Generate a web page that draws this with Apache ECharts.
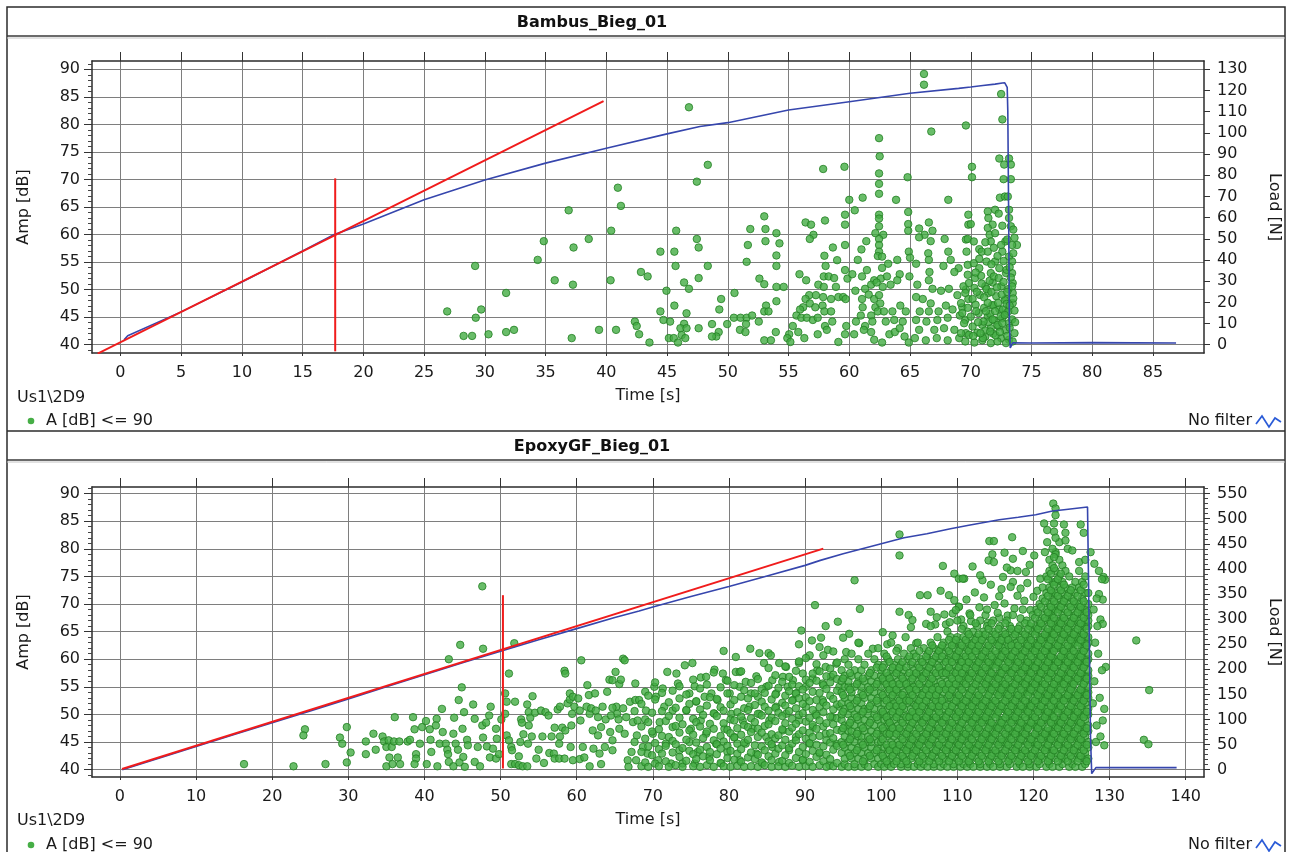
<!DOCTYPE html>
<html>
<head>
<meta charset="utf-8">
<title>Bambus_Bieg_01 / EpoxyGF_Bieg_01</title>
<script src="https://cdn.jsdelivr.net/npm/echarts@6/dist/echarts.min.js"></script>
<style>
  html, body { margin: 0; padding: 0; background: #ffffff; }
  #chart { width: 1290px; height: 852px; }
</style>
</head>
<body>
<div id="chart"></div>
<script>
// ---------- tick values ----------
const bambusTimeTicks = [0, 5, 10, 15, 20, 25, 30, 35, 40, 45, 50, 55, 60, 65, 70, 75, 80, 85];
const epoxyTimeTicks = [0, 10, 20, 30, 40, 50, 60, 70, 80, 90, 100, 110, 120, 130, 140];
const ampTicks = [40, 45, 50, 55, 60, 65, 70, 75, 80, 85, 90];
const ampMinorTicks = [39, 41, 42, 43, 44, 46, 47, 48, 49, 51, 52, 53, 54, 56, 57, 58, 59, 61, 62, 63, 64,
  66, 67, 68, 69, 71, 72, 73, 74, 76, 77, 78, 79, 81, 82, 83, 84, 86, 87, 88, 89, 91];
const bambusLoadTicks = [0, 10, 20, 30, 40, 50, 60, 70, 80, 90, 100, 110, 120, 130];
const epoxyLoadTicks = [0, 50, 100, 150, 200, 250, 300, 350, 400, 450, 500, 550];
const epoxyLoadMinor = [10, 20, 30, 40, 60, 70, 80, 90, 110, 120, 130, 140, 160, 170, 180, 190, 210, 220, 230, 240,
  260, 270, 280, 290, 310, 320, 330, 340, 360, 370, 380, 390, 410, 420, 430, 440, 460, 470, 480, 490, 510, 520, 530, 540, 560];

// ---------- Bambus_Bieg_01 ----------
// acoustic emission hits: time [s], amplitude [dB] (pairs)
const bambusHits = [
  46.8,83.1, 47.45,69.6, 40.95,68.5, 41.2,65.2, 36.9,64.4, 40.4,60.7, 45.75,60.7, 34.85,58.8, 38.55,59.2, 37.3,57.65,
  47.45,59.2, 47.6,57.65, 44.45,56.9, 45.6,56.9, 34.35,55.4, 29.2,54.3, 45.7,54.3, 42.85,53.2, 43.4,52.4, 47.6,52.1,
  35.75,51.7, 37.25,50.9, 40.35,51.7, 46.4,51.3, 46.8,50.15, 44.95,49.8, 31.75,49.4, 26.9,46.05, 29.7,46.4, 29.25,44.9,
  44.45,46.05, 45.6,47.1, 46.6,45.7, 44.7,44.5, 45.25,44.2, 42.35,44.2, 42.5,43.4, 46.4,43.8, 46.1,43.0, 46.6,43.0,
  39.4,42.7, 40.8,42.7, 32.4,42.7, 31.75,42.3, 30.3,41.9, 28.25,41.6, 28.95,41.6, 42.7,41.9, 37.15,41.2, 45.15,41.2,
  45.55,41.2, 46.2,41.75, 46.5,41.2, 43.55,40.4, 45.9,40.4, 47.6,43.0,
  48.35,72.65, 48.35,54.3, 49.45,48.3, 49.3,46.4, 50.55,49.4, 49.95,43.75, 48.7,43.75, 49.25,42.3, 49.05,41.5, 48.7,41.5,
  53.0,63.3, 51.85,61.0, 53.1,61.0, 54.0,60.25, 53.1,58.8, 51.65,58.1, 54.25,58.4, 54.0,56.2, 51.55,55.05, 54.0,54.3,
  52.6,52.0, 53.0,51.0, 54.0,50.5, 54.6,50.5, 54.0,47.9, 53.15,47.1, 53.0,46.05, 53.35,46.05, 50.5,44.9, 51.05,44.9,
  51.55,44.9, 52.0,45.3, 51.5,43.75, 52.55,44.2, 51.0,42.7, 51.45,42.3, 53.95,42.3, 53.0,40.8, 53.55,40.8,
  57.85,71.9, 59.6,72.3, 56.4,62.2, 56.85,61.8, 58.0,62.55, 57.05,59.95, 56.75,59.2, 59.65,61.8, 59.65,63.6, 60.0,66.3,
  57.95,56.15, 58.65,57.65, 59.65,58.1, 59.0,55.35, 58.05,54.3, 59.65,53.55, 55.9,52.8, 56.45,51.7, 57.9,52.4, 58.3,52.4,
  58.75,52.1, 58.9,50.5, 57.45,50.9, 57.9,50.5, 59.85,52.0, 56.7,49.0, 57.25,49.0, 57.85,48.65, 56.4,48.3, 56.2,46.8,
  56.75,47.5, 58.5,48.3, 59.1,48.65, 59.5,48.65, 59.7,48.3, 57.2,46.8, 57.8,47.1, 55.95,46.4, 55.65,45.3, 56.05,44.9,
  56.5,44.9, 57.0,44.5, 57.4,44.9, 57.95,46.05, 58.5,46.05, 58.0,43.4, 58.6,44.2, 55.35,43.4, 55.8,42.3, 55.05,41.9,
  54.9,41.2, 55.15,40.5, 56.3,41.2, 57.4,41.9, 58.15,42.7, 59.1,40.5, 59.65,41.9, 59.75,43.4,
  62.45,77.5, 62.5,74.2, 62.45,71.1, 62.45,69.2, 62.45,67.4, 61.1,66.7, 60.45,64.4, 63.85,66.3, 64.8,70.4, 62.45,63.6,
  62.45,62.9, 62.45,61.5, 62.15,60.25, 62.8,59.95, 61.4,58.8, 62.45,59.2, 62.45,58.1, 61.0,57.3, 62.45,56.9, 62.35,56.1,
  62.7,56.0, 60.7,55.4, 63.2,54.7, 63.95,55.4, 61.45,53.55, 62.7,53.95, 60.25,52.8, 61.05,52.4, 62.05,51.7, 62.6,52.0,
  63.1,52.4, 64.15,52.8, 60.5,49.8, 61.3,50.15, 61.8,50.9, 62.25,51.3, 62.75,50.5, 63.4,50.9, 63.95,51.7, 61.05,48.3,
  61.6,49.1, 62.05,48.3, 62.45,49.0, 62.15,46.8, 62.55,47.5, 61.1,46.8, 60.95,45.3, 61.8,45.3, 62.35,46.05, 62.85,46.05,
  63.55,46.05, 64.2,47.1, 64.65,46.05, 60.55,44.2, 61.3,43.4, 61.9,44.2, 63.0,44.2, 63.7,44.5, 64.4,44.2, 60.4,41.9,
  61.2,42.7, 61.8,42.3, 62.05,40.9, 62.7,40.4, 63.3,41.9, 63.75,42.3, 64.15,43.0, 64.55,41.5, 64.9,40.4, 64.85,64.1,
  64.85,61.9, 64.85,60.7, 64.9,56.9, 65.0,55.8, 64.95,52.4,
  66.15,89.15, 66.15,87.2, 66.75,78.7, 69.6,79.8, 68.15,66.3, 66.55,62.2, 65.75,61.1, 66.85,60.7, 66.2,59.95, 65.75,59.5,
  66.7,58.8, 67.85,59.2, 66.5,56.6, 68.15,56.9, 66.55,55.4, 68.35,55.4, 65.5,54.7, 67.75,54.3, 69.0,53.9, 68.65,53.2,
  66.6,53.2, 65.6,50.9, 66.55,51.7, 66.85,50.15, 67.55,49.8, 68.2,50.15, 65.5,48.65, 66.05,48.3, 66.7,47.5, 67.95,47.1,
  68.9,49.0, 69.3,46.8, 65.8,46.05, 66.55,46.05, 67.35,46.05, 68.5,46.4, 65.5,44.5, 66.35,44.2, 67.25,44.5, 68.1,44.9,
  69.1,45.3, 69.55,44.5, 65.75,42.7, 67.0,42.7, 67.8,43.0, 68.65,42.7, 65.4,41.2, 66.3,40.8, 67.2,41.2, 68.1,40.8,
  69.05,41.2, 69.6,42.1, 69.8,48.3, 69.6,50.0, 69.75,54.5, 69.6,59.1, 69.8,61.8,
  72.5,85.5, 72.6,80.9, 72.35,73.8, 73.15,73.8, 72.75,72.7, 73.3,72.7, 70.1,72.3, 70.1,70.4, 72.7,70.05, 73.3,70.05,
  72.4,66.7, 72.8,66.9, 73.05,66.9, 73.15,64.5, 71.4,64.2, 72.0,64.5, 71.45,63.0, 72.3,63.8, 73.15,63.0, 73.3,61.5,
  71.8,61.8, 72.6,61.6, 69.8,63.6, 70.0,61.9, 69.75,59.2, 71.4,61.2, 71.55,59.95, 72.0,60.25, 71.65,58.75, 72.85,58.75,
  73.8,58.1, 73.4,58.1, 70.25,58.75, 70.7,57.35, 70.9,56.9, 69.65,56.9, 71.4,56.9, 72.6,56.9, 73.15,56.0, 70.25,54.8,
  70.7,53.9, 72.0,55.1, 72.35,53.9, 73.4,55.1, 69.75,52.7, 70.35,52.1, 70.85,52.5, 71.65,53.0, 72.9,53.0, 73.4,53.0,
  69.4,50.6, 69.85,51.2, 70.3,50.3, 71.2,50.6, 71.8,51.3, 72.5,50.6, 73.45,51.2, 73.45,49.4, 69.55,49.4, 70.15,48.3,
  70.75,49.05, 71.45,49.4, 72.1,48.8, 72.9,48.3, 73.45,47.55, 69.2,47.55, 69.75,46.7, 70.4,47.25, 71.1,46.7, 71.75,47.1,
  72.35,46.5, 72.9,45.75, 69.3,45.75, 70.0,45.1, 70.65,45.75, 71.4,45.1, 71.95,44.4, 72.6,44.8, 73.15,43.9, 69.45,43.9,
  70.15,43.3, 70.95,43.6, 71.65,43.0, 72.3,43.3, 72.85,42.6, 69.2,42.1, 69.85,41.8, 70.55,42.2, 71.2,41.5, 71.85,42.0,
  72.5,41.2, 73.15,40.9, 69.55,40.6, 70.3,40.4, 70.95,40.8, 71.65,40.3, 72.2,40.6, 72.9,40.3, 73.45,40.6,
  71.0,41.2, 71.2,42.6, 71.45,44.1, 71.6,45.6, 71.85,47.2, 72.05,41.7, 72.2,43.6, 72.45,45.1, 72.65,46.4, 72.8,48.1,
  73.0,41.6, 73.2,43.1, 73.4,44.6, 73.1,46.1, 72.95,47.4, 71.1,48.6, 71.3,50.1, 71.55,51.6, 71.7,49.6, 71.9,52.4,
  72.15,50.4, 72.3,52.1, 72.55,49.1, 72.7,51.4, 72.95,53.6, 73.1,50.1, 73.3,52.2, 73.5,48.4, 73.6,46.2, 73.65,44.1,
  73.6,42.1, 71.05,44.2, 71.25,46.1, 71.4,47.6, 71.6,42.4, 71.8,44.6, 72.0,46.1, 72.25,47.6, 72.4,42.3, 72.6,43.9,
  72.8,45.4, 73.0,49.6, 73.2,47.1, 73.4,50.6, 70.8,42.1, 70.6,44.1, 70.45,46.1, 70.2,41.6, 70.5,49.6, 70.9,51.1,
  71.3,55.1, 71.7,54.6, 72.2,56.1, 72.7,55.2, 73.2,54.1, 73.5,56.6, 73.6,59.4, 73.5,60.9, 73.0,59.1, 72.5,58.1,
  71.9,57.6, 71.2,58.6, 70.7,55.6, 70.4,53.1
];
// load curve: time [s], load [N]
const bambusLoad = [
  [0.3, 2.3], [0.6, 4.2], [5, 15.5], [10, 29.6], [15, 44.2], [17.6, 52], [20, 57], [25, 68.4], [30, 77.7],
  [35, 85.7], [40, 92.7], [45, 99.5], [47.7, 103], [50, 104.8], [55, 110.8], [60, 114.7], [65, 118.7],
  [69, 121], [70, 121.6], [71, 122.3], [72, 123], [72.6, 123.5], [72.8, 123.6], [73.0, 121.5], [73.05, 110], [73.12, 60],
  [73.18, 10], [73.25, -1.5], [73.45, 0.9], [75, 0.8], [80, 1.0], [86.9, 0.8]
];
// tangent and marker: time [s], amplitude-scale value
const bambusTangent = [[-1.87, 38.4], [39.77, 84.2]];
const bambusMarker = [[17.68, 38.8], [17.68, 70.2]];

// ---------- EpoxyGF_Bieg_01 ----------
// isolated hits: time [s], amplitude [dB] (pairs)
const epoxyHits = [
  16.3,41.0, 22.8,40.6, 27.0,41.0, 29.8,41.3, 24.3,47.3, 24.1,46.2, 29.8,47.7, 28.9,45.8, 29.2,44.7, 30.3,43.1,
  32.3,42.8, 32.3,45.1, 33.3,46.5, 33.6,43.6, 34.5,46.0, 34.7,45.1, 35.0,44.1, 35.3,45.3, 35.7,44.1, 36.0,45.1,
  35.4,42.2, 35.0,40.6, 35.8,41.0, 36.7,45.1, 36.1,49.5, 36.8,41.0, 36.5,42.2, 37.8,45.1, 38.1,45.4, 38.5,49.5,
  38.7,47.3, 38.9,42.8, 38.9,42.0, 38.7,41.0, 39.4,44.7, 39.7,47.7, 40.2,48.8, 40.3,41.0, 40.7,47.3, 40.8,45.4,
  40.9,43.2, 41.6,49.2, 41.5,48.0, 41.7,40.6, 42.0,44.7, 42.3,51.0, 42.4,46.8, 42.8,44.7, 43.0,43.6, 43.1,42.8,
  43.2,41.4, 43.8,40.6, 43.9,49.4, 43.2,60.0, 43.8,46.5, 44.1,44.7, 44.4,43.6, 44.5,52.6, 44.7,62.6, 44.9,54.9,
  45.0,47.4, 45.2,50.4, 44.6,41.3, 45.1,42.3, 45.3,40.5, 45.6,45.4, 45.7,44.4, 46.4,51.8, 46.6,49.2, 46.6,41.4,
  47.0,44.1, 47.3,40.6, 47.6,73.2, 47.7,61.9, 47.6,48.0, 47.7,45.8, 48.1,48.5, 48.5,49.8, 48.7,51.4, 48.2,44.2,
  48.6,42.2, 49.0,43.8, 49.4,47.4, 49.5,45.6, 49.4,42.0, 49.8,42.8, 50.1,49.1, 50.6,53.8, 50.8,52.3, 50.6,50.1,
  51.1,57.4, 51.8,62.9, 50.8,46.2, 51.1,45.3, 51.4,44.1, 51.5,43.5, 51.4,41.0, 51.9,41.0, 52.4,40.8, 52.9,40.6,
  53.5,40.6, 51.9,52.3, 52.7,49.1, 52.8,48.5, 53.0,46.4, 52.6,45.0, 52.4,42.4, 53.5,51.8, 54.2,53.3, 53.7,50.4,
  53.9,49.4, 53.7,48.0, 54.1,46.0, 53.6,44.7, 54.5,50.3, 54.7,42.0, 55.0,43.6, 55.3,50.7, 55.7,41.2, 55.5,46.0,
  55.9,50.4, 56.3,49.8, 56.4,43.0, 56.7,46.0, 57.1,47.6, 57.0,42.9, 57.1,42.0, 57.7,42.0, 57.8,46.0, 57.7,44.7,
  57.5,50.9, 57.8,51.4, 58.4,57.9, 58.5,57.4, 58.4,42.0, 58.1,47.6, 58.5,47.1, 58.8,52.0, 59.1,52.7, 59.1,53.8,
  59.5,53.2, 59.4,50.1, 59.3,48.0, 59.2,44.1, 59.5,41.7, 59.7,51.4, 60.2,52.9, 60.4,50.7, 60.6,59.8, 60.5,48.9,
  60.4,41.9, 60.8,44.1, 61.0,42.2, 61.3,51.4, 61.4,55.3, 61.6,53.5, 61.7,50.1, 61.9,51.1, 62.1,47.1, 62.2,43.8,
  62.4,53.8, 61.7,40.6, 62.5,50.7, 62.8,49.5, 62.8,46.2, 63.0,42.9, 63.2,47.7, 63.4,51.4, 63.2,41.0, 63.7,44.1,
  63.8,49.1, 64.0,54.1, 64.3,56.3, 64.7,56.2, 64.4,46.8, 64.7,45.3, 64.7,43.5, 65.1,57.7, 65.2,51.4, 65.3,50.1,
  65.5,49.1, 65.6,47.4, 65.6,55.5, 65.8,56.3, 66.1,60.1, 66.3,59.8, 66.1,51.1, 66.3,46.5, 66.5,49.5, 66.7,41.7,
  66.8,40.5, 67.0,52.3, 67.2,43.2, 67.4,48.6, 67.6,50.6, 67.7,55.6, 67.7,52.6, 67.9,46.2, 67.8,41.7, 68.0,48.9,
  67.6,45.0, 64.7,51.2, 64.5,49.8,
  102.4,82.6, 102.4,78.8, 108.1,76.9, 96.5,74.3, 91.3,69.8, 97.2,69.1, 105.1,71.6, 106.1,71.6, 107.8,72.4, 109.6,75.5,
  110.2,74.6, 110.9,74.6, 108.9,71.6, 109.6,70.7, 109.4,68.3, 102.4,68.6, 103.6,68.0, 104.1,67.1, 106.5,68.6, 110.2,69.5,
  94.3,66.8, 92.7,66.0, 89.5,65.2, 95.8,64.6, 101.5,64.3, 103.9,65.8, 105.9,66.4, 107.1,66.3, 108.5,66.3, 89.2,62.7,
  90.9,63.4, 92.1,63.9, 95.0,63.9, 97.1,62.9, 100.2,64.9, 100.8,62.7, 103.2,64.0, 104.6,62.9, 82.8,61.9, 79.3,61.5,
  84.0,61.1, 85.2,61.1, 85.5,60.7, 80.9,60.4, 90.6,60.7, 91.9,62.2, 93.0,61.7, 95.4,61.3, 98.9,61.9, 74.2,58.9,
  75.2,59.3, 71.9,57.7, 73.1,57.4, 78.1,58.1, 80.9,57.7, 81.4,57.7, 79.2,57.4, 86.6,59.3, 87.5,58.6, 89.2,59.3,
  76.3,56.7, 77.0,56.8, 83.6,56.9, 84.6,59.3, 69.0,54.1, 70.2,55.0, 71.3,54.7, 73.3,55.6, 75.5,55.1, 69.1,50.7,
  70.4,53.2, 68.2,52.6, 71.5,51.4, 72.6,50.7, 73.5,52.9, 74.8,53.8, 74.4,50.7, 75.7,52.3, 76.8,53.2, 77.7,53.8,
  78.5,52.6, 79.6,56.2, 80.1,53.8, 81.4,55.0, 82.2,55.9, 82.9,53.8, 83.8,53.2, 84.9,55.0, 85.7,56.2, 86.2,53.8,
  87.1,56.8, 87.7,55.0, 88.4,56.2, 88.8,53.8, 89.7,57.4, 90.1,55.0, 91.0,56.5, 91.6,58.0, 92.3,55.6, 92.7,58.6,
  93.4,56.8, 94.1,59.2, 94.5,55.0,
  68.7,44.1, 69.3,42.9, 70.0,46.5, 70.7,41.7, 70.9,48.6, 71.7,44.7, 72.4,41.1, 72.6,47.7, 73.5,43.5, 73.9,41.1,
  74.8,45.0, 75.0,47.4, 75.5,41.1, 75.9,43.2, 76.3,48.9, 77.0,46.5, 77.4,42.3, 78.1,50.1, 78.3,44.7, 79.0,41.1,
  79.4,47.4, 79.8,43.2, 80.3,50.1, 80.7,45.9, 81.4,41.7, 81.8,48.9, 82.2,44.7, 82.7,51.4, 83.1,47.4, 83.6,42.9,
  84.0,50.1, 84.4,41.1, 84.9,45.9, 85.3,48.9, 85.7,44.1, 86.2,51.4, 86.6,41.4, 87.1,47.1, 87.5,50.1, 87.9,43.5,
  88.4,52.6, 88.8,45.9, 89.2,48.9, 89.7,41.7, 90.1,51.4, 90.6,44.7, 91.0,47.7, 91.4,50.1, 91.9,42.9, 92.3,52.6,
  92.7,46.5, 93.2,40.8, 93.6,49.5, 94.1,44.7, 94.5,51.4,
  122.6,88.2, 122.9,87.3, 122.9,86.1, 121.4,84.6, 122.7,84.6, 124.0,84.4, 126.2,84.4, 126.6,82.9, 121.8,83.4, 122.7,83.1,
  124.2,82.9, 117.2,82.1, 114.2,81.4, 114.8,81.4, 121.8,81.2, 123.4,81.2, 124.2,81.5, 118.6,79.6, 116.2,79.3, 114.6,79.0,
  120.1,78.8, 121.5,79.4, 122.9,79.4, 124.5,80.0, 125.1,79.7, 127.5,79.4, 128.0,77.3, 126.0,77.6, 117.3,78.2, 114.1,77.9,
  114.8,77.6, 112.0,76.8, 117.0,76.1, 117.9,76.0, 119.0,75.8, 116.0,74.9, 117.3,74.0, 110.7,74.6, 129.2,74.9, 129.4,74.4,
  113.3,74.3, 118.3,72.8, 115.5,71.4, 128.6,71.8, 129.1,70.8, 110.2,69.5, 111.6,68.3, 113.7,68.0, 115.5,67.5, 128.8,67.2,
  129.1,66.4, 133.5,63.4, 129.5,58.6, 135.2,54.4, 134.5,45.4, 135.1,44.6, 129.1,48.9, 129.3,44.4,
  127.8,52.0, 128.0,56.0, 128.3,48.0, 128.5,61.0, 128.2,45.0, 128.7,53.0, 129.0,58.0, 128.4,66.0, 129.3,51.0, 128.1,63.0,
  127.9,69.0, 128.8,46.0, 128.6,76.0, 129.0,74.5, 128.3,71.0,
  110.5,67.2, 111.2,70.8, 111.8,66.9, 112.3,72.1, 112.9,69.4, 113.5,71.2, 114.0,66.6, 114.4,73.5, 114.9,69.8, 115.3,68.4,
  115.8,72.7, 116.2,70.1, 116.6,67.9, 117.0,73.1, 117.5,69.2, 117.9,71.5, 118.3,67.4, 118.8,70.6, 119.2,73.8, 119.6,68.9,
  120.0,71.3, 120.5,72.4, 120.9,74.6, 109.0,66.7, 109.8,68.9, 108.3,68.1, 107.3,67.6, 113.0,75.2, 116.5,76.6, 119.5,77.1
];
// bursts of hits sharing one time stamp: [time, amp, amp, ...]
const epoxyBursts = [
  [68.5, 40.6,43.2,47.8,51.9], [69.0, 41.3,45.6,49.1], [69.4, 40.5,44.2,48.6,53.4], [69.9, 42.6,46.9,50.3],
  [70.3, 41.1,44.8,52.7,55.8], [70.8, 40.6,43.7,47.3], [71.2, 42.9,46.1,50.6,53.9], [71.7, 41.5,44.3,48.8],
  [72.1, 40.5,45.9,49.7,52.2], [72.6, 43.1,45.2,54.3], [73.0, 40.8,44.6,47.9,51.2], [73.5, 42.3,46.7,49.4,55.1],
  [73.9, 40.5,43.9,48.2], [74.4, 41.6,45.4,50.8,53.6], [74.8, 43.4,47.1,51.9], [75.3, 40.6,42.8,46.3,49.2,56.3],
  [75.7, 41.9,44.9,48.6,52.4], [76.2, 40.5,43.6,47.8,50.9,54.7], [76.6, 42.4,45.7,49.9], [77.1, 40.8,44.1,46.9,51.6,55.4],
  [77.5, 41.7,43.2,48.3,53.1], [78.0, 40.5,45.3,47.4,50.2,57.6], [78.4, 42.8,44.6,49.7,52.8], [78.9, 41.2,43.8,46.1,51.3,54.9],
  [79.3, 40.6,45.1,48.4,50.7], [79.8, 42.1,44.3,47.2,53.8,56.1], [80.2, 40.5,43.4,46.6,49.1,51.8], [80.7, 41.8,45.8,48.9,52.6,55.3],
  [81.1, 40.7,42.9,44.7,47.5,50.4], [81.6, 41.4,43.7,46.3,49.6,53.2,57.8], [82.0, 40.5,44.9,48.1,51.1,54.4],
  [82.5, 42.2,45.4,47.7,50.8,52.9], [82.9, 40.6,43.1,46.8,49.3,55.7], [83.4, 41.9,44.4,48.6,51.7,53.8],
  [83.8, 40.5,42.7,45.9,47.4,50.1,56.4], [84.3, 41.3,44.2,46.7,49.8,52.3,54.6], [84.7, 40.8,43.5,47.9,51.4,53.9],
  [85.2, 42.4,45.1,48.2,50.7,55.2,58.4], [85.6, 40.5,41.7,44.6,46.4,49.4,52.7], [86.1, 42.9,45.7,48.8,51.2,53.6,57.1],
  [86.5, 40.6,43.8,46.2,50.3,54.8], [87.0, 41.6,44.4,47.3,49.7,52.1,55.9], [87.4, 40.5,42.6,45.4,48.4,51.6,53.4,58.7],
  [87.9, 41.2,43.9,46.9,50.6,54.2,56.8], [88.3, 40.7,44.7,47.6,49.2,52.5,55.4], [88.8, 42.1,45.3,48.3,51.1,53.8,57.9],
  [89.2, 40.5,43.2,46.4,49.9,52.9,55.1,59.6], [89.7, 41.8,44.1,47.1,50.2,51.9,54.5], [90.1, 40.6,42.8,45.6,48.7,53.1,56.3,60.2],
  [90.6, 41.4,44.8,46.7,49.4,52.4,55.7], [91.0, 40.5,43.4,45.9,48.1,50.8,54.1,57.4], [91.5, 42.3,44.5,47.4,49.8,52.6,56.1,59.1],
  [91.9, 40.8,43.1,46.1,48.9,51.3,53.9,57.8], [92.4, 41.5,44.2,47.8,50.4,52.2,55.3,60.7], [92.8, 40.5,42.7,45.3,48.4,51.6,54.6,56.9],
  [93.3, 41.9,44.9,46.6,49.6,53.4,55.8,58.3], [93.7, 40.6,43.6,45.7,48.2,50.9,52.8,57.2,61.4], [94.2, 41.2,44.3,47.2,49.3,51.8,54.3,56.4,59.4],
  [94.8, 40.5,43,45,47,49,50,52,54,56,58], [95.2, 41,42,44,46,48,51,53,55,57,60], [95.7, 40.5,43,45,47,48,50,52,55,56,59],
  [96.1, 42,44,46,47,49,51,53,54,57,61], [96.5, 40.5,41,43,45,48,50,52,55,58], [97.0, 42,44,46,47,49,51,53,56,57,60,63],
  [97.4, 40.5,43,45,46,48,50,52,54,55,58], [97.8, 41,42,44,47,49,51,53,56,59], [98.3, 40.5,43,45,46,48,50,51,54,55,57,61],
  [98.7, 42,44,45,47,49,52,53,56,58], [99.1, 41,43,46,48,50,51,54,55,57,60], [99.6, 40.5,42,44,45,47,49,52,53,56,59,62],
  [100.0, 41,43,45,46,48,50,51,54,55,57,58], [100.4, 40.5,42,44,47,49,50,52,53,56,59,61], [100.9, 41,43,44,46,48,49,51,54,55,57,60],
  [101.3, 40.5,42,45,47,48,50,52,53,56,58,63], [101.7, 41,43,44,46,49,51,52,54,55,57,59], [102.2, 42,44,45,47,48,50,53,54,56,58,60,62],
  [102.6, 40.5,41,43,46,47,49,51,52,55,57,59], [103.0, 42,44,45,48,50,51,53,54,56,58,61], [103.5, 40.5,41,43,44,46,47,49,52,53,55,57,60],
  [103.9, 42,45,46,48,50,51,54,55,56,59,62], [104.3, 40.5,43,44,47,49,50,52,53,55,57,58,61], [104.8, 41,42,44,45,46,48,51,52,54,56,59,63],
  [105.2, 40.5,43,45,47,49,50,51,53,55,57,58,60], [105.6, 41,42,44,46,48,49,52,54,56,57,59,62], [106.1, 40.5,43,45,46,47,50,51,53,55,58,60,61],
  [106.5, 42,44,45,48,49,51,52,54,56,57,59,63,66], [106.9, 40.5,41,43,46,47,49,50,53,55,56,58,60,62], [107.4, 42,44,45,47,48,51,52,54,55,57,59,61,64],
  [107.8, 40.5,43,46,47,49,50,52,53,56,58,60,62], [108.2, 41,42,44,45,48,49,51,54,55,57,59,61,63], [108.7, 40.5,43,44,46,47,50,52,53,55,56,58,60,62,65],
  [109.1, 42,45,46,48,49,51,53,54,57,58,60,61,64], [109.5, 40.5,41,43,44,47,48,50,52,55,56,59,62,63], [110.0, 42,44,45,46,49,50,51,53,54,57,58,60,61,64,67],
  [110.4, 40.5,43,45,47,48,50,52,53,55,56,59,60,62,63], [110.8, 41,42,44,46,47,49,51,52,54,56,57,58,61,64,66], [111.3, 40.5,43,45,46,48,50,51,53,55,57,59,60,62,63,65],
  [111.7, 41,42,44,46,47,49,50,52,54,56,57,58,61,62,64,68], [112.1, 40.5,43,44,45,48,49,51,52,53,55,57,59,60,63,65], [112.6, 42,44,46,47,48,50,51,53,54,56,58,59,61,62,64,66],
  [113.0, 40.5,41,43,45,47,49,50,52,53,55,57,58,60,62,63,67], [113.4, 42,44,45,46,48,49,51,52,54,56,57,59,60,61,64,65], [113.9, 40.5,43,44,46,47,49,50,51,53,55,56,58,60,62,63,66,69],
  [114.3, 41,42,45,46,48,49,51,52,54,55,57,58,59,61,62,64], [114.7, 40.5,43,44,46,47,48,50,52,53,55,56,57,59,60,63,65,67], [115.2, 42,43,45,47,48,50,51,52,54,55,57,59,60,61,63,64],
  [115.6, 40.5,41,44,45,46,48,49,51,53,54,56,57,58,60,62,63,66], [116.0, 42,43,45,47,48,49,51,52,54,55,56,58,59,61,62,64,65], [116.5, 40.5,44,45,46,48,50,51,53,54,55,57,58,60,61,63,64,67],
  [116.9, 41,42,43,46,47,49,50,52,53,55,56,58,59,60,62,65,66], [117.3, 42,44,45,47,48,49,51,52,54,55,57,58,60,61,63,64,68], [117.8, 40.5,43,44,46,47,49,50,51,53,54,56,57,59,60,62,63,65],
  [118.2, 41,42,45,46,48,49,51,52,53,55,56,58,59,61,62,64,66], [118.6, 40.5,43,44,46,47,48,50,51,53,54,56,57,58,60,61,63,65,69], [119.1, 42,43,45,47,48,49,51,52,54,55,56,58,59,60,62,63,64,67],
  [119.5, 40.5,41,44,45,46,48,50,51,52,54,55,57,58,59,61,62,64,66], [119.9, 42,43,45,46,48,49,50,52,53,55,56,57,59,60,62,63,65,68], [120.4, 40.5,44,45,47,48,49,51,52,54,55,56,58,59,61,62,63,65,66,69],
  [120.8, 41,42,43,46,47,48,50,51,53,54,56,57,58,60,61,63,64,66,67,70], [121.2, 42,44,45,46,48,49,51,52,53,55,56,58,59,60,62,63,64,66,68,71,73],
  [121.7, 40.5,43,44,46,47,49,50,51,53,54,55,57,58,59,61,62,64,65,67,69,72,75], [122.1, 41,42,45,46,47,49,50,52,53,54,56,57,59,60,61,63,64,65,67,68,70,73,76,78],
  [122.5, 40.5,43,44,46,47,48,50,51,53,54,55,57,58,60,61,62,64,65,66,68,69,71,72,74,77,80], [122.9, 42,43,45,46,48,49,51,52,54,55,56,58,59,60,62,63,64,66,67,69,70,72,74,76,79,82],
  [123.4, 40.5,44,45,47,48,49,51,52,53,55,56,57,59,60,62,63,65,66,67,69,71,73,75,78], [123.8, 41,42,43,46,47,49,50,51,53,54,56,57,58,60,61,62,64,65,67,68,70,72,74,77],
  [124.2, 42,44,45,46,48,49,50,52,53,55,56,57,59,60,61,63,64,66,67,69,71,73,76], [124.7, 40.5,43,44,46,47,48,50,51,53,54,55,57,58,59,61,62,64,65,66,68,70,72,75],
  [125.1, 41,42,45,46,48,49,51,52,53,55,56,58,59,60,62,63,64,66,67,69,71,73], [125.5, 40.5,43,44,46,47,49,50,51,53,54,56,57,58,60,61,63,64,65,67,68,70,72,74],
  [126.0, 42,43,45,46,48,49,50,52,53,54,56,57,59,60,61,63,64,66,67,69,70,73,76], [126.4, 40.5,44,45,47,48,50,51,52,54,55,57,58,59,61,62,64,65,66,68,69,71,74],
  [126.8, 41,42,43,46,47,49,50,52,53,54,56,57,59,60,62,63,64,66,67,69,72,75,78], [127.2, 42,44,45,47,48,50,51,53,54,55,57,58,60,61,63,64,66,67,68,70,72],
  // interleaved bursts in the dense part of the run
  [95.0, 44.5,47.5,50.5,53.5,56.5], [95.9, 42.5,45.5,48.5,51.5,54.5,57.5], [96.8, 43.5,46.5,49.5,52.5,55.5],
  [97.6, 41.5,44.5,47.5,50.5,53.5,56.5], [98.5, 42.5,45.5,48.5,51.5,54.5,57.5], [99.4, 43.5,46.5,49.5,52.5,55.5,58.5],
  [100.2, 42.5,45.5,47.5,50.5,53.5,56.5,58.5], [100.7, 41.5,44.5,46.5,49.5,52.5,55.5,57.5,60.5], [101.1, 43.5,46.5,48.5,51.5,54.5,56.5,59.5],
  [101.5, 42.5,44.5,47.5,50.5,53.5,55.5,58.5], [102.0, 41.5,43.5,46.5,49.5,51.5,54.5,57.5,61.5], [102.4, 44.5,47.5,50.5,52.5,55.5,58.5],
  [102.8, 42.5,45.5,48.5,51.5,53.5,56.5,59.5], [103.3, 41.5,43.5,46.5,49.5,52.5,55.5,58.5], [103.7, 44.5,47.5,49.5,52.5,54.5,57.5,60.5],
  [104.1, 42.5,45.5,48.5,50.5,53.5,56.5,59.5], [104.6, 43.5,46.5,49.5,51.5,54.5,57.5,60.5], [105.0, 41.5,44.5,47.5,50.5,52.5,55.5,58.5,61.5],
  [105.4, 42.5,45.5,48.5,51.5,53.5,56.5,59.5], [105.9, 43.5,46.5,49.5,52.5,54.5,57.5,60.5], [106.3, 41.5,44.5,47.5,50.5,53.5,55.5,58.5,61.5],
  [106.7, 42.5,45.5,48.5,51.5,54.5,56.5,59.5,62.5], [107.2, 43.5,46.5,49.5,52.5,53.5,57.5,60.5], [107.6, 41.5,44.5,47.5,50.5,51.5,54.5,58.5,61.5],
  [108.0, 42.5,45.5,48.5,52.5,55.5,57.5,60.5,62.5], [108.5, 43.5,46.5,49.5,51.5,54.5,57.5,59.5], [108.9, 41.5,44.5,47.5,50.5,53.5,55.5,58.5,61.5,63.5],
  [109.3, 42.5,45.5,48.5,51.5,54.5,56.5,59.5,62.5], [109.8, 43.5,46.5,49.5,52.5,55.5,57.5,60.5,63.5], [110.2, 41.5,44.5,47.5,50.5,53.5,56.5,58.5,61.5],
  [110.6, 42.5,45.5,48.5,51.5,54.5,57.5,59.5,62.5,65.5], [111.1, 43.5,46.5,49.5,52.5,55.5,58.5,60.5,63.5], [111.5, 41.5,44.5,47.5,50.5,53.5,56.5,59.5,61.5,64.5],
  [111.9, 42.5,45.5,48.5,51.5,54.5,57.5,60.5,62.5], [112.4, 43.5,46.5,49.5,52.5,55.5,58.5,61.5,63.5,66.5], [112.8, 41.5,44.5,47.5,50.5,53.5,56.5,59.5,62.5,64.5],
  [113.2, 42.5,45.5,48.5,51.5,54.5,57.5,60.5,63.5], [113.7, 43.5,46.5,49.5,52.5,55.5,58.5,61.5,64.5], [114.1, 41.5,44.5,47.5,50.5,53.5,56.5,59.5,62.5,65.5],
  [114.5, 42.5,45.5,48.5,51.5,54.5,57.5,60.5,63.5,66.5], [115.0, 43.5,46.5,49.5,52.5,55.5,58.5,61.5,64.5], [115.4, 41.5,44.5,47.5,50.5,53.5,56.5,59.5,62.5,65.5],
  [115.8, 42.5,45.5,48.5,51.5,54.5,57.5,60.5,63.5], [116.3, 43.5,46.5,49.5,52.5,55.5,58.5,61.5,64.5,66.5], [116.7, 41.5,44.5,47.5,50.5,53.5,56.5,59.5,62.5,63.5],
  [117.1, 42.5,45.5,48.5,51.5,54.5,57.5,60.5,62.5,65.5], [117.6, 43.5,46.5,49.5,52.5,55.5,58.5,61.5,64.5], [118.0, 41.5,44.5,47.5,50.5,53.5,56.5,59.5,62.5,65.5],
  [118.4, 42.5,45.5,48.5,51.5,54.5,57.5,60.5,63.5], [118.9, 43.5,46.5,49.5,52.5,55.5,58.5,61.5,64.5,66.5], [119.3, 41.5,44.5,47.5,50.5,53.5,56.5,59.5,62.5,65.5],
  [119.7, 42.5,45.5,48.5,51.5,54.5,57.5,60.5,63.5,66.5], [120.2, 43.5,46.5,49.5,52.5,55.5,58.5,61.5,64.5,67.5], [120.6, 41.5,44.5,47.5,50.5,53.5,56.5,59.5,62.5,65.5,68.5],
  [121.0, 42.5,45.5,48.5,51.5,54.5,57.5,60.5,63.5,66.5,69.5], [121.5, 43.5,46.5,49.5,52.5,55.5,58.5,61.5,64.5,67.5,70.5],
  [121.9, 41.5,44.5,47.5,50.5,53.5,56.5,59.5,62.5,65.5,68.5,71.5,74.5], [122.3, 42.5,45.5,48.5,51.5,54.5,57.5,60.5,63.5,66.5,69.5,72.5,75.5],
  [122.7, 43.5,46.5,49.5,52.5,55.5,58.5,61.5,64.5,67.5,70.5,73.5,76.5,78.5], [123.2, 41.5,44.5,47.5,50.5,53.5,56.5,59.5,62.5,65.5,68.5,71.5,74.5],
  [123.6, 42.5,45.5,48.5,51.5,54.5,57.5,60.5,63.5,66.5,69.5,72.5,75.5], [124.0, 43.5,46.5,49.5,52.5,55.5,58.5,61.5,64.5,67.5,70.5,73.5],
  [124.5, 41.5,44.5,47.5,50.5,53.5,56.5,59.5,62.5,65.5,68.5,71.5], [124.9, 42.5,45.5,48.5,51.5,54.5,57.5,60.5,63.5,66.5,69.5,72.5],
  [125.3, 43.5,46.5,49.5,52.5,55.5,58.5,61.5,64.5,67.5,70.5], [125.8, 41.5,44.5,47.5,50.5,53.5,56.5,59.5,62.5,65.5,68.5,71.5],
  [126.2, 42.5,45.5,48.5,51.5,54.5,57.5,60.5,63.5,66.5,69.5,72.5], [126.6, 43.5,46.5,49.5,52.5,55.5,58.5,61.5,64.5,67.5,70.5,73.5],
  [127.0, 41.5,44.5,47.5,50.5,53.5,56.5,59.5,62.5,65.5,68.5]
];
// load curve: time [s], load [N]
const epoxyLoad = [
  [0.3, 0], [5, 22.3], [10, 46], [15, 70], [20, 93.6], [25, 117], [30, 141], [35, 165], [40, 189], [45, 213],
  [50, 236], [55, 259], [60, 281], [65, 303], [68.2, 316], [70, 324], [75, 345], [80, 365], [85, 386], [90, 407],
  [92, 417], [95, 430], [100, 450], [103, 462], [106, 470], [109.1, 480], [111.5, 487], [115.5, 498], [118, 503],
  [120.3, 508], [122.5, 515.4], [124, 518], [127.1, 523.4], [127.3, 300], [127.5, 60], [127.65, -8], [128.2, 4], [138.8, 4]
];
const epoxyTangent = [[0.27, 40.1], [92.39, 80.03]];
const epoxyMarker = [[50.31, 40.2], [50.31, 71.6]];

// ---------- helpers ----------
function toPairs(flat) {
  const out = [];
  for (let i = 0; i + 1 < flat.length; i += 2) out.push([flat[i], flat[i + 1]]);
  return out;
}
function fromBursts(bursts) {
  const out = [];
  bursts.forEach(function (b) { for (let i = 1; i < b.length; i++) out.push([b[0], b[i]]); });
  return out;
}

const FONT = '"DejaVu Sans", Verdana, sans-serif';
const TXT = '#1a1a1a';
const frameLine = { show: true, onZero: false, lineStyle: { color: '#2b2b2b', width: 1.5 } };
const gridLine = { show: true, lineStyle: { color: '#7e7e7e', width: 1 } };
const labelStyle = { fontFamily: FONT, fontSize: 16, color: TXT };

function timeAxes(grid, min, max, ticks) {
  return [
    {
      type: 'value', gridIndex: grid, position: 'bottom', min: min, max: max,
      axisLine: frameLine,
      axisTick: { show: true, length: 3, customValues: ticks, lineStyle: { color: '#333' } },
      axisLabel: Object.assign({ customValues: ticks, margin: 12 }, labelStyle),
      splitLine: gridLine,
      name: 'Time [s]', nameLocation: 'middle', nameGap: 35,
      nameTextStyle: labelStyle
    },
    {
      type: 'value', gridIndex: grid, position: 'top', min: min, max: max,
      axisLine: frameLine,
      axisTick: { show: true, length: 9, customValues: ticks, lineStyle: { color: '#333' } },
      axisLabel: { show: false }, splitLine: { show: false }
    }
  ];
}
function ampAxes(grid, min, max) {
  return [
    {
      type: 'value', gridIndex: grid, position: 'left', min: min, max: max,
      axisLine: frameLine,
      axisTick: { show: true, length: 8, customValues: ampTicks, lineStyle: { color: '#333' } },
      axisLabel: Object.assign({ customValues: ampTicks, margin: 12 }, labelStyle),
      splitLine: gridLine,
      name: 'Amp [dB]', nameLocation: 'middle', nameGap: 60, nameRotate: 90,
      nameTextStyle: labelStyle
    },
    {
      type: 'value', gridIndex: grid, position: 'left', min: min, max: max,
      axisLine: { show: false, onZero: false },
      axisTick: { show: true, length: 4, customValues: ampMinorTicks, lineStyle: { color: '#444' } },
      axisLabel: { show: false }, splitLine: { show: false }
    }
  ];
}
function loadAxis(grid, min, max, ticks) {
  return {
    type: 'value', gridIndex: grid, position: 'right', min: min, max: max,
    axisLine: frameLine,
    axisTick: { show: true, length: 6, customValues: ticks, lineStyle: { color: '#333' } },
    axisLabel: Object.assign({ customValues: ticks, margin: 13 }, labelStyle),
    splitLine: { show: false },
    name: 'Load [N]', nameLocation: 'middle', nameGap: 62, nameRotate: -90,
    nameTextStyle: labelStyle
  };
}

const hitStyle = { color: '#44ad44', borderColor: '#237f23', borderWidth: 1 };
function hitSeries(xi, yi, data) {
  return { type: 'scatter', xAxisIndex: xi, yAxisIndex: yi, data: data, symbol: 'circle', symbolSize: 7.5,
    itemStyle: hitStyle, z: 2, progressive: 0, silent: true };
}
function lineSeries(xi, yi, data, color, width, z) {
  return { type: 'line', xAxisIndex: xi, yAxisIndex: yi, data: data, showSymbol: false, symbol: 'none',
    lineStyle: { color: color, width: width }, z: z, silent: true };
}

function legendGraphics(yUs, yA) {
  return [
    { type: 'text', style: { text: 'Us1\\2D9', x: 17, y: yUs, font: '16px ' + FONT, fill: TXT,
      textAlign: 'left', align: 'left', textVerticalAlign: 'middle', verticalAlign: 'middle' } },
    { type: 'circle', shape: { cx: 31, cy: yA, r: 3.3 }, style: { fill: '#46ae46' } },
    { type: 'text', style: { text: 'A [dB] <= 90', x: 46, y: yA, font: '16px ' + FONT, fill: TXT,
      textAlign: 'left', align: 'left', textVerticalAlign: 'middle', verticalAlign: 'middle' } },
    { type: 'text', style: { text: 'No filter', x: 1252, y: yA, font: '16px ' + FONT, fill: TXT,
      textAlign: 'right', align: 'right', textVerticalAlign: 'middle', verticalAlign: 'middle' } },
    { type: 'polyline', shape: { points: [[1256, yA + 3], [1262, yA - 5], [1269, yA + 6], [1275, yA - 3], [1281, yA + 1]] },
      style: { stroke: '#2a5bd7', lineWidth: 1.7, fill: 'none' } }
  ];
}
function titleGraphic(text, y) {
  return { type: 'text', style: { text: text, x: 592, y: y, font: 'bold 16px ' + FONT, fill: '#111',
    textAlign: 'center', align: 'center', textVerticalAlign: 'middle', verticalAlign: 'middle' } };
}

const chart = echarts.init(document.getElementById('chart'), null, { renderer: 'canvas' });
chart.setOption({
  animation: false,
  backgroundColor: '#ffffff',
  textStyle: { fontFamily: FONT },
  grid: [
    { left: 92, right: 85, top: 61, height: 292 },
    { left: 92, right: 85, top: 487, height: 290 }
  ],
  xAxis: [].concat(
    timeAxes(0, -2.34, 89.2, bambusTimeTicks),
    timeAxes(1, -3.67, 142.4, epoxyTimeTicks)
  ),
  yAxis: [].concat(
    ampAxes(0, 38.5, 91.5),                       // 0, 1
    [loadAxis(0, -3.9, 133.9, bambusLoadTicks)],  // 2
    ampAxes(1, 38.66, 91.2),                      // 3, 4
    [loadAxis(1, -14.7, 563.2, epoxyLoadTicks),   // 5
     { type: 'value', gridIndex: 1, position: 'right', min: -14.7, max: 563.2,
       axisLine: { show: false, onZero: false },
       axisTick: { show: true, length: 4, customValues: epoxyLoadMinor, lineStyle: { color: '#444' } },
       axisLabel: { show: false }, splitLine: { show: false } }]  // 6
  ),
  graphic: {
    elements: [
      { type: 'rect', shape: { x: 7, y: 7, width: 1278, height: 860 }, style: { fill: 'none', stroke: '#2b2b2b', lineWidth: 1.5 } },
      { type: 'line', shape: { x1: 7, y1: 36, x2: 1285, y2: 36 }, style: { stroke: '#3a3a3a', lineWidth: 1.5 } },
      { type: 'line', shape: { x1: 7, y1: 38, x2: 1285, y2: 38 }, style: { stroke: '#c4c4c4', lineWidth: 1 } },
      { type: 'line', shape: { x1: 7, y1: 431, x2: 1285, y2: 431 }, style: { stroke: '#2b2b2b', lineWidth: 1.5 } },
      { type: 'line', shape: { x1: 7, y1: 460, x2: 1285, y2: 460 }, style: { stroke: '#3a3a3a', lineWidth: 1.5 } },
      { type: 'line', shape: { x1: 7, y1: 462, x2: 1285, y2: 462 }, style: { stroke: '#c4c4c4', lineWidth: 1 } },
      titleGraphic('Bambus_Bieg_01', 23),
      titleGraphic('EpoxyGF_Bieg_01', 447)
    ].concat(legendGraphics(398, 421), legendGraphics(821, 845))
  },
  series: [
    hitSeries(0, 0, toPairs(bambusHits)),
    lineSeries(0, 2, bambusLoad, '#3646ad', 1.6, 3),
    lineSeries(0, 0, bambusTangent, '#f01c1c', 2, 4),
    lineSeries(0, 0, bambusMarker, '#f01c1c', 2, 4),
    hitSeries(2, 3, toPairs(epoxyHits).concat(fromBursts(epoxyBursts))),
    lineSeries(2, 5, epoxyLoad, '#3646ad', 1.6, 3),
    lineSeries(2, 3, epoxyTangent, '#f01c1c', 2, 4),
    lineSeries(2, 3, epoxyMarker, '#f01c1c', 2, 4)
  ]
});
</script>
</body>
</html>
